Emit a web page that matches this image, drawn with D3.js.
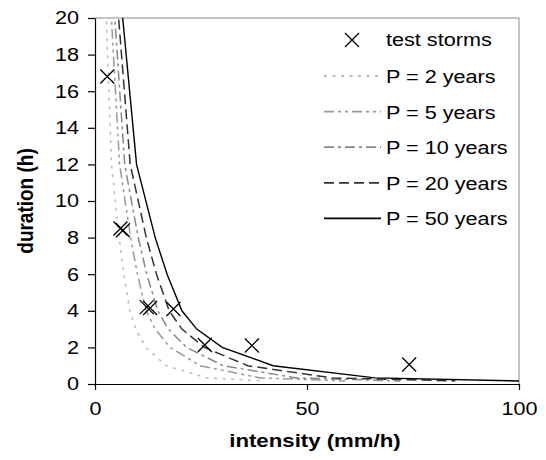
<!DOCTYPE html>
<html>
<head>
<meta charset="utf-8">
<script src="https://cdn.jsdelivr.net/npm/d3@7"></script>
<style>
  body { margin: 0; background: #fff; }
  svg { font-family: "Liberation Sans", Arial, Helvetica, sans-serif; }
</style>
</head>
<body>
<svg width="546" height="460"></svg>
<script>
// duration points (h) shared by every return period curve
let durations = [24, 12, 8, 6, 4, 3, 2, 1, 0.333, 0.167]

// intensities (mm/h) for each return period
let p2 = [2.0, 3.9, 5.7, 6.8, 8.2, 9.6, 12.0, 16.8, 26.4, 40]
let p5 = [2.9, 5.8, 8.4, 10.0, 12.1, 14.2, 17.7, 24.8, 39, 59]
let p10 = [3.5, 7.0, 10.2, 12.2, 14.8, 17.3, 21.6, 30.2, 47.5, 72]
let p20 = [4.2, 8.3, 12.1, 14.5, 17.5, 20.5, 25.8, 36, 56, 85]
let p50 = [4.9, 9.8, 14.2, 17.0, 20.5, 24.0, 30.0, 42, 66, 100]

let seriesNames = ["P = 2 years", "P = 5 years", "P = 10 years", "P = 20 years", "P = 50 years"]
let seriesData = [p2, p5, p10, p20, p50]

// test storms
let stormIntensity = [2.9, 6.0, 6.6, 12.2, 13.0, 18.5, 25.9, 37.0, 74.1]
let stormDuration = [16.8, 8.5, 8.4, 4.2, 4.15, 4.1, 2.13, 2.1, 1.07]

let xTicks = [0, 50, 100]
let yTicks = [0, 2, 4, 6, 8, 10, 12, 14, 16, 18, 20]

let styles = [
  { color: "#bbbbbb", dash: "3,5.5", width: 1.5 },
  { color: "#999999", dash: "10,4,3,4,3,4", width: 1.5 },
  { color: "#888888", dash: "10,4,3,4", width: 1.5 },
  { color: "#333333", dash: "10,5", width: 1.5 },
  { color: "#000000", dash: null, width: 1.4 }
]

let plotLeft = 95, plotRight = 519, plotTop = 18, plotBottom = 384
let fontSize = 18.5
let stretch = 1.17   // the original picture is a bit wider than tall

let svg = d3.select("svg")

// widen a text element around one of its edges
let widen = (sel, origin) => {
  sel.style("transform-box", "fill-box")
     .style("transform-origin", origin)
     .style("transform", "scaleX(" + stretch + ")")
}

let xScale = d3.scaleLinear().domain([0, 100]).range([plotLeft, plotRight])
let yScale = d3.scaleLinear().domain([0, 20]).range([plotBottom, plotTop])

svg.append("clipPath").attr("id", "plot")
   .append("rect")
   .attr("x", plotLeft).attr("y", plotTop)
   .attr("width", plotRight - plotLeft).attr("height", plotBottom - plotTop)

// gray frame on top and right
svg.append("path")
   .attr("d", "M" + plotLeft + "," + plotTop + "H" + plotRight + "V" + plotBottom)
   .attr("fill", "none")
   .attr("stroke", "#888")
   .attr("stroke-width", 1)

// curves
let line = d3.line()
             .x(d => xScale(d[0]))
             .y(d => yScale(d[1]))

let curves = svg.append("g").attr("clip-path", "url(#plot)")
seriesData.forEach((vals, i) => {
  let pts = vals.map((v, j) => [v, durations[j]])
  curves.append("path")
        .datum(pts)
        .attr("d", line)
        .attr("fill", "none")
        .attr("stroke", styles[i].color)
        .attr("stroke-width", styles[i].width)
        .attr("stroke-dasharray", styles[i].dash)
})

// axes
let xAxis = d3.axisBottom(xScale).tickValues(xTicks).tickSize(6).tickSizeOuter(0).tickPadding(12)
let gx = svg.append("g")
   .attr("transform", "translate(0," + plotBottom + ")")
   .call(xAxis)
let yAxis = d3.axisLeft(yScale).tickValues(yTicks).tickSize(7).tickSizeOuter(0).tickPadding(9)
let gy = svg.append("g")
   .attr("transform", "translate(" + plotLeft + ",0)")
   .call(yAxis)
svg.selectAll("g[font-family]").attr("font-family", null)
svg.selectAll(".tick text").attr("font-size", fontSize).attr("fill", "#000")
widen(gx.selectAll(".tick text"), "center")
widen(gy.selectAll(".tick text"), "right center")
svg.selectAll(".domain, .tick line").attr("stroke", "#000").attr("stroke-width", 1.2)

svg.append("text")
   .attr("x", 315)
   .attr("y", 447)
   .attr("text-anchor", "middle")
   .attr("font-size", 19)
   .attr("font-weight", "bold")
   .text("intensity (mm/h)")
   .call(widen, "center")

svg.append("text")
   .attr("transform", "translate(33," + (plotTop + plotBottom) / 2 + ") rotate(-90) scale(1," + stretch + ")")
   .attr("text-anchor", "middle")
   .attr("font-size", 19)
   .attr("font-weight", "bold")
   .text("duration (h)")

// storm markers
let cross = (g, x, y, r) => {
  g.append("path")
   .attr("d", "M" + (x - r) + "," + (y - r) + "L" + (x + r) + "," + (y + r) +
              "M" + (x - r) + "," + (y + r) + "L" + (x + r) + "," + (y - r))
   .attr("stroke", "#000")
   .attr("stroke-width", 1.3)
   .attr("fill", "none")
}
let marks = svg.append("g")
stormIntensity.forEach((v, i) => cross(marks, xScale(v), yScale(stormDuration[i]), 7))

// legend
let legend = svg.append("g")
cross(legend, 352, 40, 7)
legend.append("text").attr("x", 386).attr("y", 46).attr("font-size", fontSize)
      .text("test storms").call(widen, "left center")
seriesNames.forEach((name, i) => {
  let y = 76 + i * 35.6
  legend.append("line")
        .attr("x1", 324).attr("x2", 381)
        .attr("y1", y).attr("y2", y)
        .attr("stroke", styles[i].color)
        .attr("stroke-width", styles[i].width + 0.3)
        .attr("stroke-dasharray", styles[i].dash)
  legend.append("text")
        .attr("x", 386).attr("y", y + 7)
        .attr("font-size", fontSize)
        .text(name)
        .call(widen, "left center")
})
</script>
</body>
</html>
